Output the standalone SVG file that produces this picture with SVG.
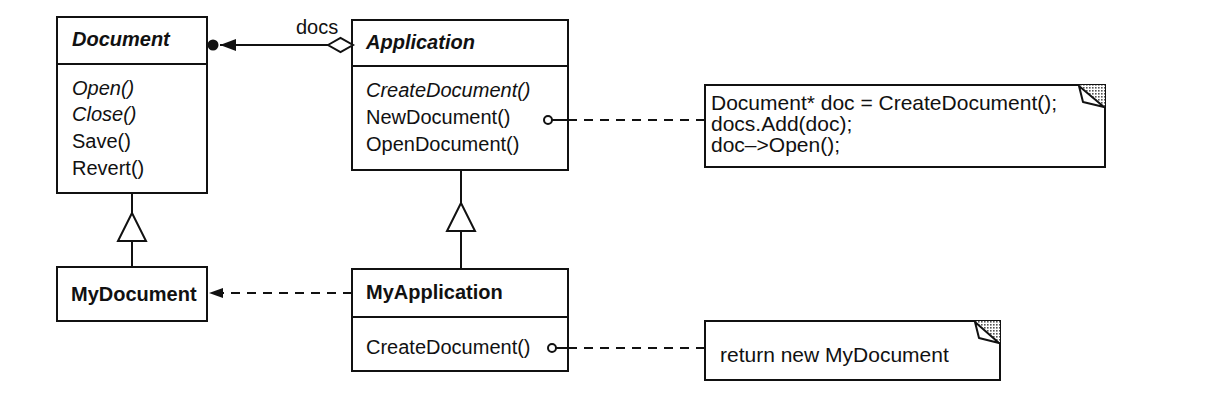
<svg xmlns="http://www.w3.org/2000/svg" width="1224" height="402" viewBox="0 0 1224 402">
<style>
.box{fill:#fff;stroke:#111;stroke-width:2}
.sep{stroke:#111;stroke-width:2}
.t{font-family:"Liberation Sans",Arial,Helvetica,sans-serif;font-size:20px;fill:#111}
.n{font-size:21px}
.b{font-weight:bold}
.i{font-style:italic}
.ln{stroke:#111;stroke-width:2;fill:none}
.dash{stroke:#111;stroke-width:2;fill:none;stroke-dasharray:9 7}
.tri{fill:#fff;stroke:#111;stroke-width:2}
.dot{fill:#fff;stroke:#111;stroke-width:2}
.fold{fill:#fff;stroke:#111;stroke-width:2;stroke-linejoin:round}
</style>
<defs>
<marker id="arr" viewBox="0 0 16 12" refX="16" refY="6" markerWidth="16" markerHeight="12" markerUnits="userSpaceOnUse" orient="auto">
<path d="M0,0 L16,6 L0,12 z" fill="#111"/>
</marker>
<marker id="arrs" viewBox="0 0 14 10" refX="14" refY="5" markerWidth="14" markerHeight="10" markerUnits="userSpaceOnUse" orient="auto">
<path d="M0,0 L14,5 L0,10 z" fill="#111"/>
</marker>
<polygon id="gen" points="0,0 -14,28 14,28" class="tri"/>
<pattern id="hatch" width="3" height="3" patternUnits="userSpaceOnUse">
<rect width="3" height="3" fill="#fff"/><rect width="1.6" height="1.6" fill="#555"/>
</pattern>
</defs>
<rect width="1224" height="402" fill="#fff"/>

<g id="Document">
<rect class="box" x="57" y="17" width="150" height="176"/>
<line class="sep" x1="57" y1="64" x2="207" y2="64"/>
<text class="t b i" x="72" y="46">Document</text>
<text class="t i" x="72" y="95">Open()</text>
<text class="t i" x="72" y="121">Close()</text>
<text class="t" x="72" y="148">Save()</text>
<text class="t" x="72" y="175">Revert()</text>
</g>

<g id="Application">
<rect class="box" x="352" y="20" width="216" height="150"/>
<line class="sep" x1="352" y1="66" x2="568" y2="66"/>
<text class="t b i" x="366" y="49">Application</text>
<text class="t i" x="366" y="97">CreateDocument()</text>
<text class="t" x="366" y="124">NewDocument()</text>
<text class="t" x="366" y="151">OpenDocument()</text>
</g>

<g id="MyDocument">
<rect class="box" x="57" y="267" width="150" height="54"/>
<text class="t b" x="71" y="301">MyDocument</text>
</g>

<g id="MyApplication">
<rect class="box" x="352" y="269" width="216" height="102"/>
<line class="sep" x1="352" y1="317" x2="568" y2="317"/>
<text class="t b" x="366" y="299">MyApplication</text>
<text class="t" x="366" y="354">CreateDocument()</text>
</g>

<g id="note1">
<rect class="box" x="705" y="85" width="400" height="82"/>
<polygon points="1079,85 1105,85 1105,107" fill="url(#hatch)"/>
<polygon class="fold" points="1079,86 1083,102 1104,107"/>
<text class="t n" x="711" y="110">Document* doc = CreateDocument();</text>
<text class="t n" x="711" y="131">docs.Add(doc);</text>
<text class="t n" x="711" y="152">doc–&gt;Open();</text>
</g>

<g id="note2">
<rect class="box" x="705" y="321" width="295" height="59"/>
<polygon points="975,321 1000,321 1000,343" fill="url(#hatch)"/>
<polygon class="fold" points="975,322 979,338 999,343"/>
<text class="t n" x="720" y="362">return new MyDocument</text>
</g>

<g id="connectors">
<line class="ln" x1="328" y1="45" x2="220" y2="45" marker-end="url(#arr)"/>
<circle cx="213" cy="45" r="5.5" fill="#111"/>
<polygon class="tri" points="328,45 340.5,38 353,45 340.5,52"/>
<text class="t" x="296" y="34">docs</text>
<line class="ln" x1="132" y1="193" x2="132" y2="267"/>
<use href="#gen" x="132" y="213"/>
<line class="ln" x1="461" y1="170" x2="461" y2="269"/>
<use href="#gen" x="461" y="203"/>
<line class="dash" x1="352" y1="293" x2="209" y2="293" marker-end="url(#arrs)"/>
<line class="ln" x1="552" y1="120" x2="568" y2="120"/>
<line class="dash" x1="568" y1="120" x2="705" y2="120"/>
<circle class="dot" cx="548" cy="120" r="4"/>
<line class="ln" x1="556" y1="348" x2="568" y2="348"/>
<line class="dash" x1="568" y1="348" x2="705" y2="348"/>
<circle class="dot" cx="552" cy="348" r="4"/>
</g>
</svg>
